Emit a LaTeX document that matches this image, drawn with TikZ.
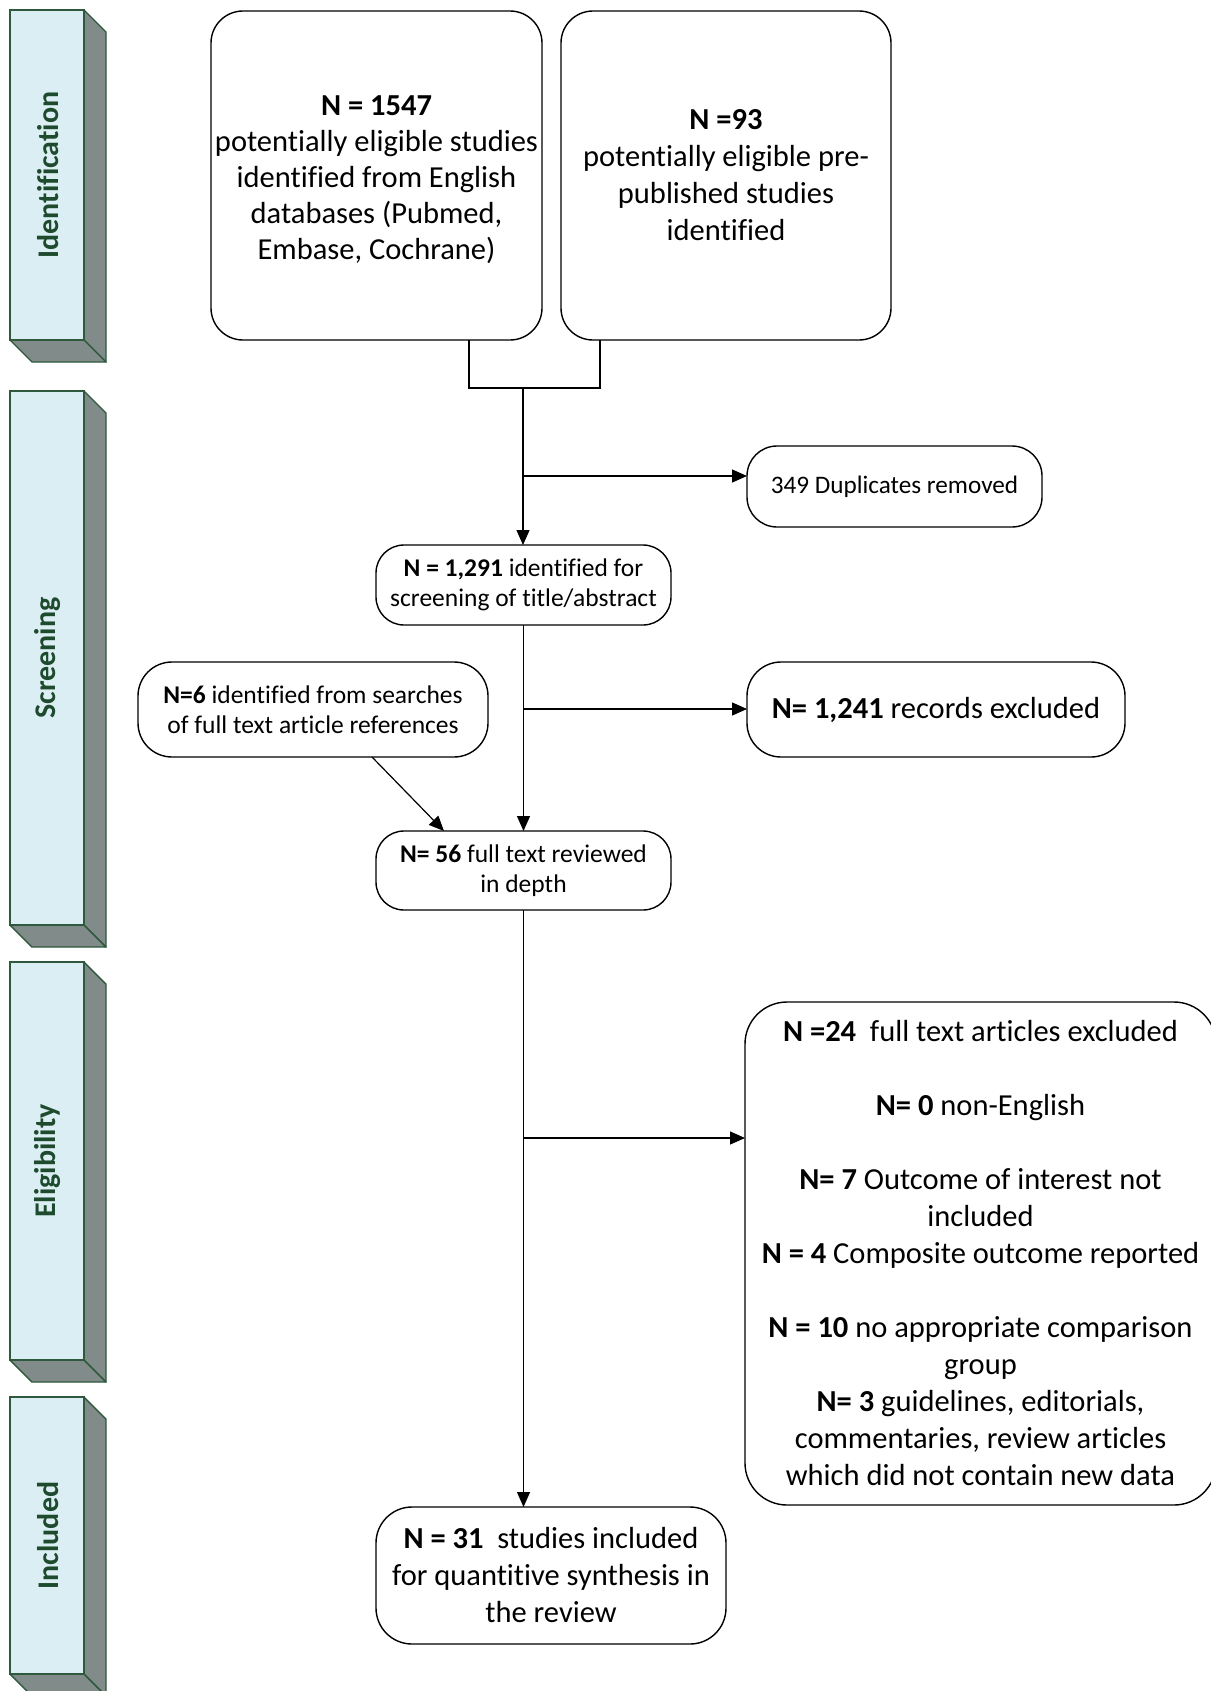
\documentclass[tikz,border=0pt]{standalone}
\usepackage{fontspec}
\setmainfont{Carlito}[Ligatures=NoCommon]
\usetikzlibrary{arrows.meta}
\definecolor{phasefront}{RGB}{219,238,243}
\definecolor{phaseside}{RGB}{128,139,138}
\definecolor{phaseline}{RGB}{46,89,60}
\definecolor{phasetext}{RGB}{30,75,45}

\begin{document}
\begin{tikzpicture}[x=0.5pt,y=-0.5pt,
  flowbox/.style={draw=black, line width=0.7pt, fill=white, inner sep=0pt,
    outer sep=0pt, align=center, rounded corners=#1},
  flowbox/.default=14pt,
  bigtext/.style={font=\fontsize{15.25}{18.5}\selectfont},
  smalltext/.style={font=\fontsize{12.75}{15}\selectfont},
  link/.style={line width=0.6pt},
  arrow/.style={link, -{Triangle[length=7.5pt,width=6.5pt]}},
  phaselabel/.style={rotate=90, text=phasetext,
    font=\fontsize{15}{18}\bfseries\selectfont}
]
\useasboundingbox (0,0) rectangle (1210,1691);

% phase bars on the left: front face, side face and bottom face
\foreach \ya/\yb/\pname/\plabel in {10/340/phid/Identification,
    391/925/phscr/Screening, 962/1360/phelig/Eligibility,
    1397/1674/phinc/Included}{
  \filldraw[fill=phaseside, draw=phaseline, line width=0.7pt, line join=round]
    (84,\ya) -- (106,\ya+22) -- (106,\yb+22) -- (84,\yb) -- cycle;
  \filldraw[fill=phaseside, draw=phaseline, line width=0.7pt, line join=round]
    (10,\yb) -- (84,\yb) -- (106,\yb+22) -- (32,\yb+22) -- cycle;
  \filldraw[fill=phasefront, draw=phaseline, line width=0.7pt]
    (10,\ya) rectangle (84,\yb);
  \node[phaselabel] (\pname) at (48,{(\ya+\yb)/2}) {\plabel};
}

% identification sources
\node[flowbox=16pt, font=\fontsize{15.25}{18}\selectfont,
  minimum width=165.5pt, minimum height=164.5pt]
  (srcA) at (376.5,175.5)
  {\rule{0pt}{14.5pt}\textbf{N = 1547}\\potentially eligible studies\\identified from English\\databases (Pubmed,\\Embase, Cochrane)};
\node[flowbox=16pt, bigtext, minimum width=165pt, minimum height=164.5pt]
  (srcB) at (726,175.5)
  {\textbf{N =93}\\potentially eligible pre-\\published studies\\identified};

% screening stage
\node[flowbox=15pt, font=\fontsize{12.6}{15}\selectfont,
  minimum width=147.5pt, minimum height=40.5pt] (dup) at (894.5,486.5)
  {349 Duplicates removed};
\node[flowbox, smalltext, minimum width=147.5pt, minimum height=40pt]
  (scr) at (523.5,585)
  {\textbf{N = 1,291} identified for\\screening of title/abstract};
\node[flowbox=17pt, bigtext, minimum width=189pt, minimum height=47.5pt]
  (rej) at (936,709.5)
  {\textbf{N= 1,241} records excluded};
\node[flowbox=17pt, smalltext, minimum width=175pt, minimum height=47.5pt]
  (nsix) at (313,709.5)
  {\textbf{N=6} identified from searches\\of full text article references};
\node[flowbox, smalltext, minimum width=147.5pt, minimum height=39.5pt]
  (rev) at (523.5,870.5)
  {\textbf{N= 56} full text reviewed\\in depth};

% eligibility stage
\node[flowbox=21pt, bigtext, minimum width=235.5pt, minimum height=251.5pt]
  (excl) at (980.5,1253.5)
  {\textbf{N =24}~ full text articles excluded\\[18.5pt]
   \textbf{N= 0} non-English\\[18.5pt]
   \textbf{N= 7} Outcome of interest not\\included\\
   \textbf{N = 4} Composite outcome reported\\[18.5pt]
   \textbf{N = 10} no appropriate comparison\\group\\
   \textbf{N= 3} guidelines, editorials,\\commentaries, review articles\\which did not contain new data};

% included
\node[flowbox=18pt, bigtext, minimum width=175pt, minimum height=68.5pt]
  (inc) at (551,1575.5)
  {\textbf{N = 31}~ studies included\\for quantitive synthesis in\\the review};

% connectors
\coordinate (join) at (523,388);
\coordinate (jdup) at (523,476);
\coordinate (jrej) at (523,709);
\coordinate (jexcl) at (523,1138);

\draw[link] ([xshift=46.25pt]srcA.south) |- (join) -| ([xshift=-63pt]srcB.south);
\draw[arrow] (join) -- (join |- scr.north);
\draw[arrow] (jdup) -- (jdup -| dup.west);
\draw[arrow] (scr.south) -- (rev.north);
\draw[arrow] (jrej) -- (jrej -| rej.west);
\draw[arrow] ([xshift=29.5pt]nsix.south) -- ([xshift=-39.75pt]rev.north);
\draw[arrow] (rev.south) -- (rev.south |- inc.north);
\draw[arrow] (jexcl) -- (jexcl -| excl.west);
\end{tikzpicture}
\end{document}
